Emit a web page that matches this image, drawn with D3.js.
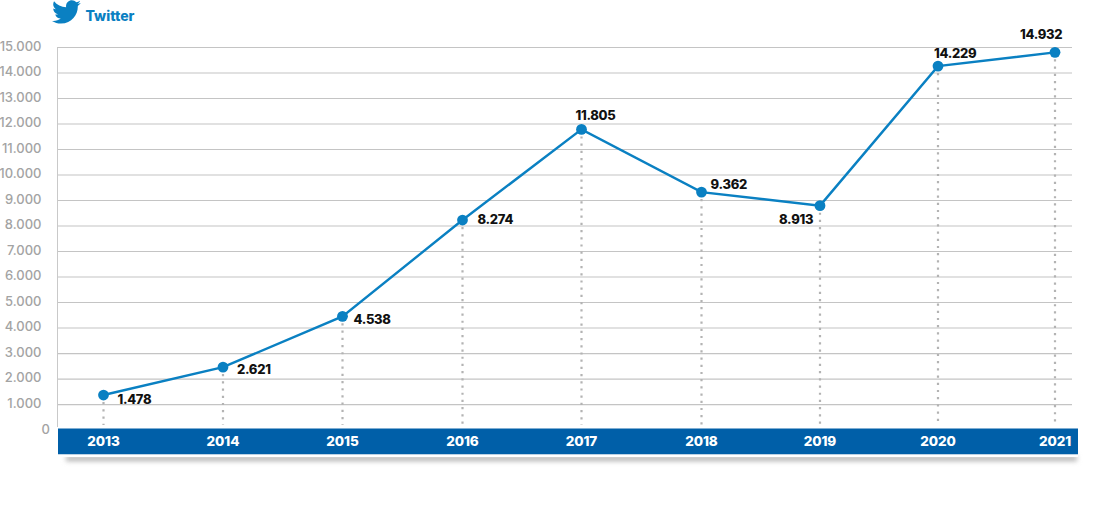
<!DOCTYPE html>
<html><head><meta charset="utf-8">
<script src="https://cdn.jsdelivr.net/npm/d3@7/dist/d3.min.js"></script>
<style>
html,body{margin:0;padding:0;background:#fff}
svg{display:block}
text{font-family:Inter,"Open Sans",sans-serif}
</style></head><body>
<svg id="c" width="1110" height="512"></svg>
<script>
const years = ["2013","2014","2015","2016","2017","2018","2019","2020","2021"];
const plotted = [1375,2470,4460,8235,11790,9330,8800,14270,14810];
const valueLabels = ["1.478","2.621","4.538","8.274","11.805","9.362","8.913","14.229","14.932"];
const yTicks = [0,1000,2000,3000,4000,5000,6000,7000,8000,9000,10000,11000,12000,13000,14000,15000];
const yTickLabels = ["0","1.000","2.000","3.000","4.000","5.000","6.000","7.000","8.000","9.000","10.000","11.000","12.000","13.000","14.000","15.000"];
const seriesName = "Twitter";
const labelOffsets = [[14,9],[14,7],[11,8],[15,4],[-6,-9],[9,-3],[-41,18],[-4,-8],[-35,-13]];

const svg = d3.select("#c");
const defs = svg.append("defs");
const blur = defs.append("filter").attr("id","sh").attr("x","-5%").attr("width","110%").attr("y","-200%").attr("height","500%");
blur.append("feGaussianBlur").attr("stdDeviation",2.5);

const xPos = {"2013":103.5,"2014":223,"2015":342.5,"2016":462.5,"2017":581.5,"2018":701.5,"2019":820,"2020":938,"2021":1055};
const y = d3.scaleLinear().domain([0,15000]).range([430.1,47.5]);
const X = d => xPos[d];

// grid
svg.append("g").selectAll("line").data(yTicks.slice(1)).join("line")
 .attr("x1",57).attr("x2",1072).attr("y1",d=>y(d)).attr("y2",d=>y(d))
 .attr("stroke","#c4c4c4").attr("stroke-width",1.1);
svg.append("line").attr("x1",57.5).attr("x2",57.5).attr("y1",47.5).attr("y2",427).attr("stroke","#c9c9c9");

// y labels
svg.append("g").selectAll("text").data(yTicks).join("text")
 .attr("x",d=>d===0?50:41.5).attr("y",d=>y(d)+(d===0?4:3))
 .attr("text-anchor","end").attr("font-size",13).attr("fill","#a3a3a3").attr("font-weight",500)
 .text((d,i)=>yTickLabels[i]);

// dotted droplines
svg.append("g").selectAll("line").data(years).join("line")
 .attr("x1",d=>X(d)).attr("x2",d=>X(d))
 .attr("y1",(d,i)=>y(plotted[i])+7).attr("y2",425)
 .attr("stroke","#b3b3b3").attr("stroke-width",2.2).attr("stroke-dasharray","2.2 5");

// shadow + band
svg.append("rect").attr("x",66).attr("y",456).attr("width",1011).attr("height",5).attr("fill","#b0b0b0").attr("filter","url(#sh)");
svg.append("rect").attr("x",58).attr("y",428.5).attr("width",1020).attr("height",26).attr("fill","#005fa8");
svg.append("rect").attr("x",58).attr("y",454.5).attr("width",1020).attr("height",2.5).attr("fill","#fff");
svg.append("g").selectAll("text").data(years).join("text")
 .attr("x",d=>X(d)).attr("y",445.5).attr("text-anchor","middle")
 .attr("font-size",13.5).attr("font-weight",800).attr("letter-spacing",-0.1).attr("fill","#fff").text(d=>d);

// line
svg.append("path").datum(plotted)
 .attr("d",d3.line().x((d,i)=>X(years[i])).y(d=>y(d)))
 .attr("fill","none").attr("stroke","#0a80c2").attr("stroke-width",2.4);
svg.append("g").selectAll("circle").data(plotted).join("circle")
 .attr("cx",(d,i)=>X(years[i])).attr("cy",d=>y(d)).attr("r",5.4).attr("fill","#0a80c2");

// value labels
svg.append("g").selectAll("text").data(valueLabels).join("text")
 .attr("x",(d,i)=>X(years[i])+labelOffsets[i][0]).attr("y",(d,i)=>y(plotted[i])+labelOffsets[i][1])
 .attr("font-size",13).attr("font-weight",800).attr("letter-spacing",-0.3).attr("fill","#111").text(d=>d);

// title with bird
svg.append("path")
 .attr("transform","translate(52,-2.5) scale(1.2)")
 .attr("d","M24 4.6c-.9.4-1.8.7-2.8.8 1-.6 1.8-1.6 2.2-2.7-1 .6-2 1-3.1 1.2C19.3 2.8 18 2.2 16.6 2.2c-2.7 0-4.9 2.2-4.9 4.9 0 .4 0 .8.1 1.1C7.7 8 4.1 6.1 1.7 3.1c-.4.7-.7 1.6-.7 2.5 0 1.7.9 3.2 2.2 4.1-.8 0-1.6-.2-2.2-.6v.1c0 2.4 1.7 4.4 3.9 4.8-.4.1-.8.2-1.3.2-.3 0-.6 0-.9-.1.6 2 2.4 3.4 4.6 3.4-1.7 1.3-3.8 2.1-6.1 2.1-.4 0-.8 0-1.2-.1 2.2 1.4 4.8 2.2 7.5 2.2 9.1 0 14-7.5 14-14v-.6c1-.7 1.8-1.6 2.5-2.5z")
 .attr("fill","#0a80c2");
svg.append("text").attr("x",85.5).attr("y",21).attr("font-size",14).attr("font-weight",800).attr("fill","#0a80c2").text(seriesName);
</script></body></html>
